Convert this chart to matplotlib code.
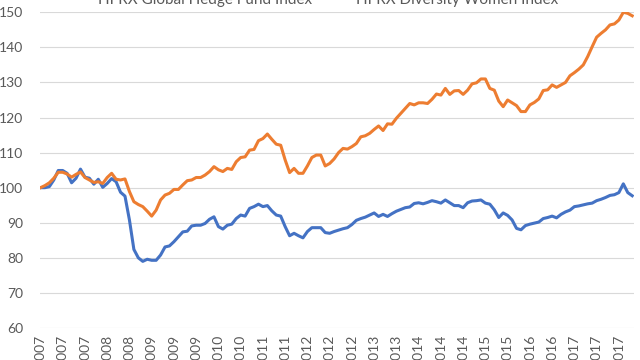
import matplotlib
matplotlib.use("Agg")
import matplotlib.pyplot as plt
import pandas as pd
from matplotlib.lines import Line2D

# Monthly index values, Jan 2007 - Feb 2018
hedge_fund = [100, 100, 100.3, 102.2, 104.9, 104.9, 104.1, 101.4, 102.7, 105.3,
              103, 102.7, 101, 102.4, 100.1, 101.2, 102.6, 101.7, 98.7, 97.6,
              90.8, 82.4, 80, 79, 79.6, 79.3, 79.3, 80.8, 83.1, 83.4,
              84.6, 86, 87.4, 87.6, 89.1, 89.3, 89.3, 89.8, 91, 91.7,
              88.9, 88.2, 89.3, 89.6, 91.2, 92.2, 91.9, 94.1, 94.6, 95.3,
              94.6, 94.9, 93.4, 92.2, 91.9, 88.9, 86.3, 87, 86.3, 85.7,
              87.5, 88.6, 88.6, 88.6, 87.2, 87, 87.5, 87.9, 88.3, 88.6,
              89.5, 90.7, 91.2, 91.6, 92.2, 92.8, 91.8, 92.4, 91.8, 92.6,
              93.3, 93.8, 94.3, 94.5, 95.5, 95.7, 95.4, 95.8, 96.3, 96,
              95.6, 96.5, 95.7, 94.9, 94.9, 94.3, 95.7, 96.2, 96.3, 96.5,
              95.6, 95.3, 93.7, 91.5, 92.8, 92.1, 90.8, 88.4, 88, 89.2,
              89.6, 89.9, 90.2, 91.2, 91.5, 91.9, 91.4, 92.4, 93.1, 93.6,
              94.6, 94.8, 95.1, 95.4, 95.6, 96.3, 96.7, 97.2, 97.8, 98,
              98.6, 101.1, 98.6, 97.7]

diversity_women = [100, 100.6, 101.4, 102.7, 104.4, 104.4, 103.9, 103, 103.8, 104.5,
                   102.9, 102.2, 101.5, 101.7, 101.2, 102.9, 104.1, 102.4, 102.2, 102.5,
                   98.9, 96, 95.2, 94.6, 93.3, 91.9, 93.6, 96.5, 97.9, 98.4,
                   99.5, 99.5, 100.8, 102, 102.2, 102.9, 102.9, 103.6, 104.6, 106,
                   105.1, 104.6, 105.5, 105.2, 107.4, 108.6, 108.8, 110.7, 110.9, 113.4,
                   114, 115.3, 113.8, 112.4, 112.1, 107.9, 104.3, 105.5, 104.1, 104.1,
                   106.2, 108.6, 109.3, 109.3, 106.2, 106.9, 108.2, 110, 111.2, 111,
                   111.7, 112.6, 114.5, 114.8, 115.5, 116.6, 117.6, 116.3, 118.2, 118.1,
                   119.8, 121.2, 122.6, 124, 123.6, 124.2, 124.2, 124, 125.2, 126.7,
                   126.4, 128.3, 126.6, 127.6, 127.7, 126.6, 127.8, 129.6, 129.9, 131,
                   131, 128.3, 127.8, 124.7, 123.1, 125, 124.2, 123.4, 121.7, 121.7,
                   123.6, 124.3, 125.3, 127.7, 127.9, 129.3, 128.6, 129.3, 130, 131.9,
                   132.8, 133.8, 135, 137.4, 140.2, 142.9, 144, 145, 146.4, 146.7,
                   147.8, 150, 149.7, 149]

months = pd.date_range("2007-01-01", periods=len(hedge_fund), freq="MS")
series_names = ["HFRX Global Hedge Fund Index", "HFRX Diversity Women Index"]
colors = ["#4472C4", "#ED7D31"]
text_color = "#595959"

plt.rcParams["font.family"] = ["Lato", "DejaVu Sans"]

fig = plt.figure(figsize=(6.4, 3.6), dpi=100)
ax = fig.add_axes([40 / 640, 32 / 360, 594 / 640, 315.7 / 360])

x = list(range(len(months)))
ax.plot(x, hedge_fund, color=colors[0], lw=2.2, solid_joinstyle="round")
ax.plot(x, diversity_women, color=colors[1], lw=2.2, solid_joinstyle="round")

ax.set_ylim(60, 150)
ax.set_yticks(range(60, 151, 10))
ax.set_xlim(-0.1, 133.4)
tick_pos = x[::5]
ax.set_xticks(tick_pos)
ax.set_xticklabels([str(months[i].year) for i in tick_pos], rotation=90)

ax.grid(axis="y", color="#d9d9d9", lw=0.8)
ax.set_axisbelow(True)
for s in ax.spines.values():
    s.set_visible(False)
ax.tick_params(axis="both", length=0, colors=text_color, labelsize=10)
ax.tick_params(axis="y", pad=12)
ax.tick_params(axis="x", pad=5)

handles = [Line2D([], [], color=c, lw=2.2) for c in colors]
fig.legend(handles, series_names, loc="center", bbox_to_anchor=(0.49, 1.0),
           ncol=2, frameon=False, fontsize=11, labelcolor=text_color,
           handlelength=1.6, columnspacing=1.0, handletextpad=0.3)

fig.savefig("out.png", dpi=100)
